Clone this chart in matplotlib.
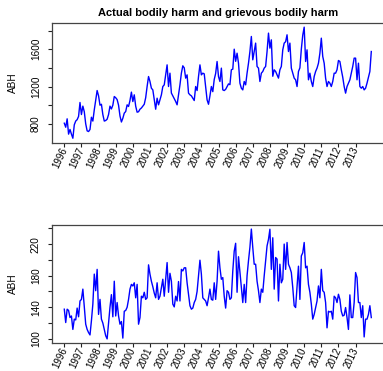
import numpy as np
import matplotlib
matplotlib.use('Agg')
import matplotlib.pyplot as plt

plt.rcParams['font.family'] = ['Liberation Sans', 'DejaVu Sans']

# monthly values, Jan 1996 - Dec 2013
abh_top = [
    807, 764, 854, 690, 740, 690, 646, 790, 830, 845, 880, 1029,
    900, 990, 930, 800, 725, 718, 740, 871, 830, 950, 1057, 1157,
    1100, 1000, 1010, 900, 830, 836, 850, 900, 990, 960, 1000, 1093,
    1080, 1060, 1000, 885, 820, 860, 915, 932, 1004, 986, 1050, 1140,
    1039, 1111, 990, 925, 930, 957, 970, 990, 1010, 1080, 1200, 1307,
    1254, 1182, 1164, 1057, 957, 1075, 1004, 1057, 1111, 1200, 1218, 1325,
    1432, 1200, 1343, 1130, 1100, 1070, 1040, 1004, 1110, 1218, 1343, 1422,
    1400, 1290, 1325, 1129, 1111, 1100, 1075, 1050, 1200, 1157, 1307, 1432,
    1325, 1343, 1336, 1200, 1057, 1010, 1100, 1200, 1145, 1275, 1340, 1468,
    1307, 1254, 1397, 1164, 1157, 1170, 1200, 1228, 1220, 1380, 1386, 1600,
    1470, 1557, 1450, 1236, 1182, 1164, 1254, 1218, 1343, 1450, 1575, 1736,
    1486, 1575, 1665, 1415, 1397, 1254, 1343, 1361, 1397, 1415, 1575, 1772,
    1611, 1700, 1310, 1379, 1361, 1325, 1290, 1379, 1415, 1593, 1665, 1680,
    1754, 1575, 1665, 1397, 1343, 1290, 1272, 1200, 1361, 1400, 1600, 1750,
    1836, 1468, 1593, 1272, 1343, 1254, 1200, 1307, 1361, 1397, 1450, 1557,
    1718, 1522, 1450, 1290, 1200, 1254, 1236, 1200, 1254, 1343, 1343, 1380,
    1479, 1468, 1379, 1300, 1200, 1129, 1200, 1236, 1272, 1343, 1415, 1504,
    1504, 1272, 1450, 1200, 1182, 1200, 1164, 1182, 1236, 1300, 1361, 1575,
]

abh_bottom = [
    137.6, 120.7, 137.6, 136, 127, 129, 112, 125, 124, 139, 128, 148,
    150, 163, 140, 118.6, 112, 108, 105, 123, 144, 182, 161, 188,
    131, 150, 125, 120, 112, 104, 100, 120, 140, 156, 128, 173,
    129, 146, 129, 118.6, 122, 101, 135, 136, 140, 150, 163, 169,
    167, 171, 152, 169, 118.6, 127, 154, 152, 159, 150, 152, 193.7,
    182, 173, 166, 158, 152, 171, 150, 154, 165, 175.5, 154, 175.5,
    196.6, 159, 183, 173, 144, 140.5, 154, 148, 172.6, 148, 188, 186,
    190, 190, 171, 156.5, 142, 137.6, 139, 146, 150, 160, 180, 199.6,
    182, 152, 150, 148, 142, 152, 163, 150, 149, 171, 150, 173,
    211, 190, 175.5, 177.6, 154, 139, 161, 159, 150, 152, 186, 211,
    221, 159, 204, 185, 165, 146, 169, 146, 180, 199, 216, 239,
    215.6, 194.5, 194.5, 173, 161, 146, 163, 159, 179.8, 198.7, 217.7, 226,
    238.8, 188, 228, 163, 203, 201, 148, 194.5, 171, 175.5, 220, 188,
    222, 194.5, 190, 184, 165, 142, 139.7, 165, 192, 150, 205, 209,
    222, 190, 192, 169, 159, 144, 125, 131, 139.7, 148, 167, 152,
    188, 161, 159, 146, 114, 135, 134, 135, 125, 154, 152, 146,
    156.5, 150, 135, 129, 130, 139.7, 127, 112, 155.7, 127, 127, 146,
    184, 177.6, 146, 146, 127, 142, 102.5, 125, 125, 131, 142, 127,
]

year_ticks = list(range(1996, 2014))
top_yticks = [800, 1000, 1200, 1400, 1600, 1800]
top_ylabels = ['800', '', '1200', '', '1600', '']
bot_yticks = [100, 120, 140, 160, 180, 200, 220, 240]
bot_ylabels = ['100', '', '140', '', '180', '', '220', '']

t = 1996 + np.arange(len(abh_top)) / 12.0


def rlim(v):
    # R style 4% padding
    lo, hi = min(v), max(v)
    d = (hi - lo) * 0.04
    return lo - d, hi + d


fig = plt.figure(figsize=(3.83, 3.71), dpi=100)
ax1 = fig.add_axes([0.1358, 0.6154, 0.8657, 0.3234])
ax2 = fig.add_axes([0.1358, 0.0747, 0.8657, 0.3197])

for ax, y, yt, yl in [(ax1, abh_top, top_yticks, top_ylabels),
                      (ax2, abh_bottom, bot_yticks, bot_ylabels)]:
    ax.plot(t, y, color='#0000ff', lw=1.0)
    ax.set_xlim(rlim(t))
    ax.set_ylim(rlim(y))
    ax.set_xticks(year_ticks)
    ax.set_xticklabels([str(v) for v in year_ticks], rotation=65,
                       ha='right', va='center', rotation_mode='anchor',
                       fontsize=6.9)
    ax.set_yticks(yt)
    ax.set_yticklabels(yl, rotation=90, va='center', fontsize=7.2)
    ax.tick_params(direction='out', length=3, width=0.8, color='#222222')
    ax.tick_params(axis='y', pad=5)
    ax.tick_params(axis='x', pad=0.6)
    for s in ax.spines.values():
        s.set_color('#444444')
        s.set_linewidth(0.9)
    ax.set_ylabel('ABH', fontsize=7.2, va='center')
    ax.yaxis.set_label_coords(-0.118, 0.5)

ax1.set_title('Actual bodily harm and grievous bodily harm',
              fontsize=8.0, fontweight='bold', pad=4.5)

fig.savefig('out.png', dpi=100)
